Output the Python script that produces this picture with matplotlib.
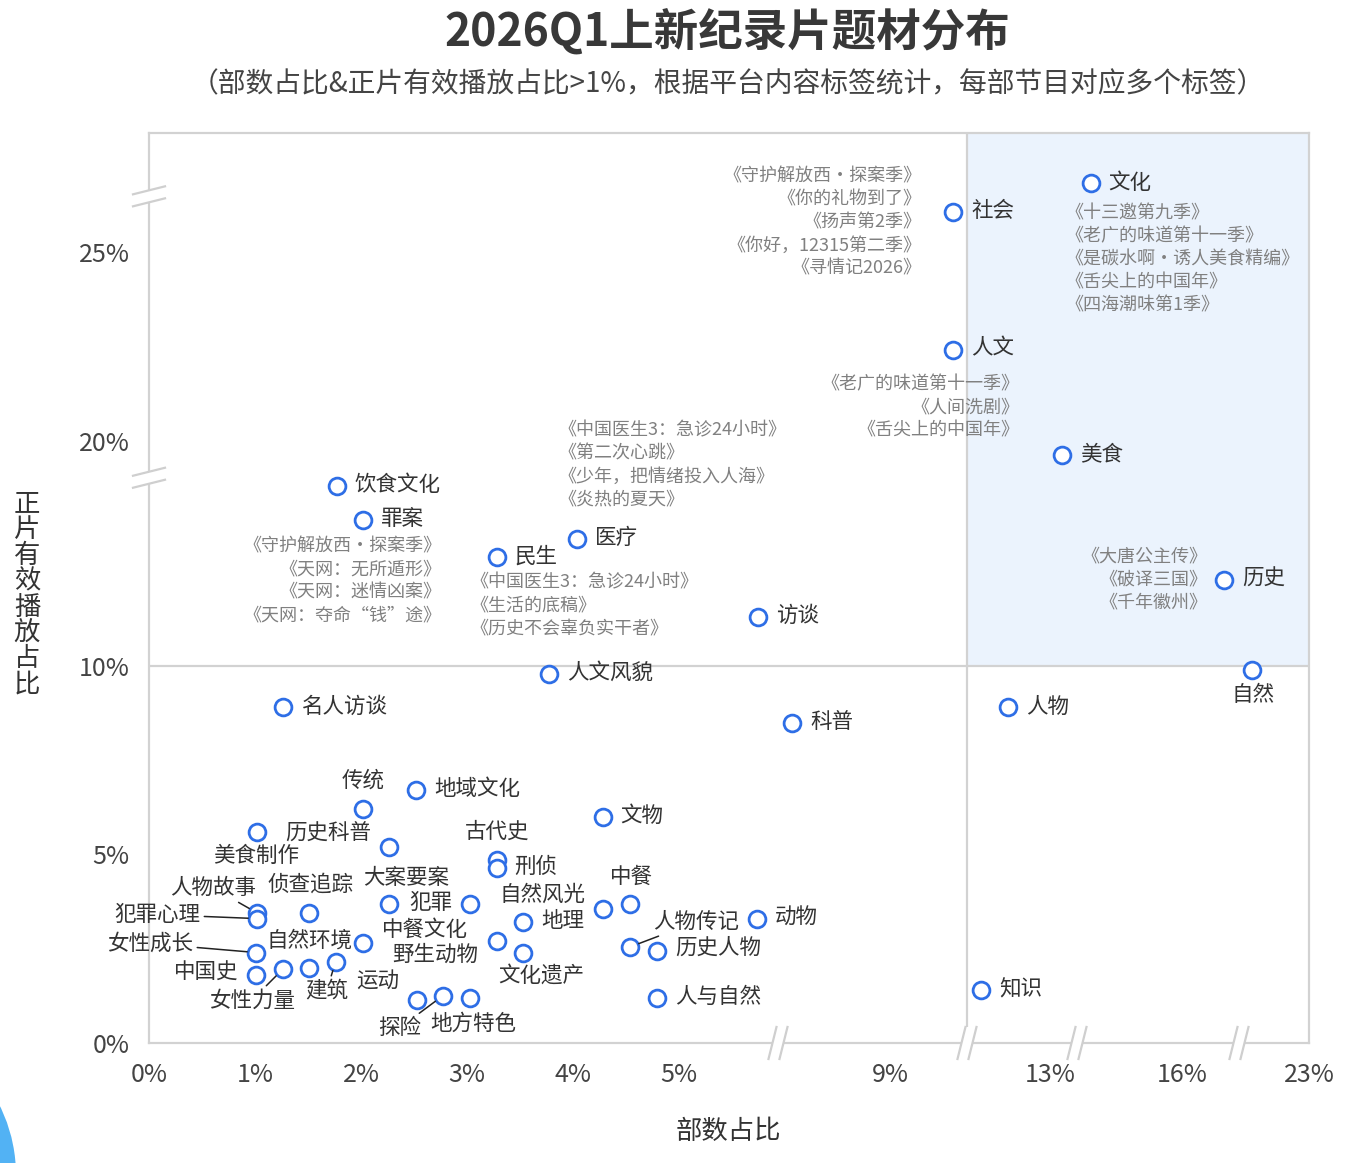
import numpy as np
import matplotlib.pyplot as plt
from matplotlib.patches import Ellipse, Polygon
from matplotlib.lines import Line2D

plt.rcParams['font.family'] = ['Noto Sans CJK SC', 'DejaVu Sans']

# --- data (部数占比 %, 正片有效播放占比 %) ---
names = ['文化', '社会', '人文', '美食', '历史', '自然', '人物', '知识',
         '饮食文化', '罪案', '民生', '医疗', '访谈', '人文风貌', '名人访谈', '科普',
         '传统', '地域文化', '文物', '美食制作', '历史科普', '古代史', '刑侦', '大案要案',
         '犯罪', '人物故事', '犯罪心理', '侦查追踪', '自然风光', '中餐', '地理', '中餐文化',
         '野生动物', '文化遗产', '人物传记', '历史人物', '人与自然', '动物', '女性成长', '中国史',
         '女性力量', '建筑', '自然环境', '探险', '地方特色', '运动']
x_share = [14.0, 10.64, 10.64, 13.31, 16.74, 18.1, 11.99, 11.34,
           1.77, 2.02, 3.28, 4.04, 5.80, 3.77, 1.26, 6.38,
           2.02, 2.52, 4.28, 1.02, 2.26, 3.28, 3.28, 2.26,
           3.03, 1.02, 1.02, 1.51, 4.28, 4.54, 3.53, 3.28,
           2.53, 3.53, 4.54, 4.79, 4.79, 5.79, 1.01, 1.01,
           1.26, 1.76, 2.02, 2.77, 3.03, 1.51]
y_play = [28.8, 26.1, 22.4, 19.6, 12.3, 9.9, 8.9, 1.4,
          14.8, 13.9, 12.9, 13.4, 11.3, 9.8, 8.9, 8.5,
          6.2, 6.7, 6.0, 5.6, 5.2, 4.85, 4.65, 3.7,
          3.7, 3.45, 3.3, 3.45, 3.55, 3.7, 3.2, 2.7,
          1.15, 2.4, 2.55, 2.45, 1.2, 3.3, 2.4, 1.8,
          1.95, 2.15, 2.65, 1.25, 1.2, 2.0]

works_shehui = ['《守护解放西·探案季》', '《你的礼物到了》', '《扬声第2季》', '《你好，12315第二季》', '《寻情记2026》']
works_wenhua = ['《十三邀第九季》', '《老广的味道第十一季》', '《是碳水啊·诱人美食精编》', '《舌尖上的中国年》', '《四海潮味第1季》']
works_renwen = ['《老广的味道第十一季》', '《人间洗剧》', '《舌尖上的中国年》']
works_yiliao = ['《中国医生3：急诊24小时》', '《第二次心跳》', '《少年，把情绪投入人海》', '《炎热的夏天》']
works_minsheng = ['《中国医生3：急诊24小时》', '《生活的底稿》', '《历史不会辜负实干者》']
works_zuian = ['《守护解放西·探案季》', '《天网：无所遁形》', '《天网：迷情凶案》', '《天网：夺命“钱”途》']
works_lishi = ['《大唐公主传》', '《破译三国》', '《千年徽州》']

x_ticks = [0, 1, 2, 3, 4, 5, 9, 13, 16, 23]
y_ticks = [0, 5, 10, 20, 25]

# --- broken axes as piecewise scales (value -> pixel) ---
x_vals = [0, 5, 6, 9, 11, 13, 13.7, 16, 17, 23]
x_pix = [149, 679, 778, 890, 967, 1050, 1077, 1182, 1239, 1309]
y_vals = [0, 10, 15, 19, 20, 25, 26.5, 28, 32]
y_pix = [0, 377, 564.5, 566, 602, 791, 846, 848, 910]

def fx(v):
    return np.interp(v, x_vals, x_pix)

def fx_inv(p):
    return np.interp(p, x_pix, x_vals)

def fy(v):
    return np.interp(v, y_vals, y_pix)

def fy_inv(p):
    return np.interp(p, y_pix, y_vals)

# label layout: (dx, dy) pixels from point (dy downwards), alignment
label_pos = {
    '文化': (18, 0, 'left'), '社会': (18, -1, 'left'), '人文': (18, -2, 'left'),
    '美食': (18, -1, 'left'), '历史': (18, -1, 'left'), '自然': (1, 25, 'center'),
    '传统': (0, -29, 'center'), '美食制作': (-1, 24, 'center'), '历史科普': (-17, -14, 'right'),
    '古代史': (0, -28, 'center'), '大案要案': (18, -26, 'center'), '犯罪': (-18, -1, 'right'),
    '人物故事': (-44, -25, 'center'), '犯罪心理': (-57, -4, 'right'), '侦查追踪': (1, -28, 'center'),
    '自然风光': (-60, -14, 'center'), '中餐': (1, -27, 'center'), '中餐文化': (-72, -11, 'center'),
    '野生动物': (18, -45, 'center'), '文化遗产': (18, 23, 'center'), '人物传记': (66, -25, 'center'),
    '历史人物': (18, -3, 'left'), '女性成长': (-63, -9, 'right'), '中国史': (-18, -2, 'right'),
    '女性力量': (-31, 31, 'center'), '建筑': (-9, 29, 'center'), '自然环境': (-54, -2, 'center'),
    '探险': (-43, 32, 'center'), '地方特色': (3, 26, 'center'), '运动': (69, 14, 'center'),
}
leaders = {'人物故事', '犯罪心理', '女性成长', '女性力量', '建筑', '探险', '人物传记'}

# program lists: owner, list, dx, dy(top), ha
work_boxes = [
    ('社会', works_shehui, -32, -44, 'right'),
    ('文化', works_wenhua, -25, 22, 'left'),
    ('人文', works_renwen, 66, 25, 'right'),
    ('医疗', works_yiliao, -19, -117, 'left'),
    ('民生', works_minsheng, -26, 16, 'left'),
    ('罪案', works_zuian, 78, 18, 'right'),
    ('历史', works_lishi, -17, -32, 'right'),
]

W, H = 1351, 1163
fig = plt.figure(figsize=(W / 100, H / 100), dpi=100)
ax = fig.add_axes([149 / W, 1 - 1043 / H, (1309 - 149) / W, (1043 - 133) / H])
ax.set_xscale('function', functions=(fx, fx_inv))
ax.set_yscale('function', functions=(fy, fy_inv))
ax.set_xlim(0, 23)
ax.set_ylim(0, 32)

# highlighted quadrant + dividers
ax.fill_between([11, 23], 10, 32, color='#ebf3fd', zorder=0, lw=0)
ax.axvline(11, color='#d2d2d2', lw=1.6, zorder=1)
ax.axhline(10, color='#d2d2d2', lw=1.6, zorder=1)

for s in ax.spines.values():
    s.set_color('#d2d2d2')
    s.set_linewidth(1.6)

ax.set_xticks(x_ticks)
ax.set_xticklabels([f'{t}%' for t in x_ticks])
ax.set_yticks(y_ticks)
ax.set_yticklabels([f'{t}%' for t in y_ticks])
ax.tick_params(length=0, labelsize=18, labelcolor='#444444')
ax.tick_params(axis='x', pad=14)
ax.tick_params(axis='y', pad=14)

ax.scatter(x_share, y_play, s=146, facecolor='white', edgecolor='#2e6ee6', linewidth=2.0, zorder=3)

idx = {n: i for i, n in enumerate(names)}
for i, n in enumerate(names):
    dx, dy, ha = label_pos.get(n, (18, -1, 'left'))
    kw = {}
    if n in leaders:
        kw['arrowprops'] = dict(arrowstyle='-', color='#222222', lw=1.1, shrinkA=1, shrinkB=6.5)
    ax.annotate(n, (x_share[i], y_play[i]), xytext=(dx, -dy), textcoords='offset pixels',
                ha=ha, va='center', fontsize=15.5, color='#333333', zorder=4, **kw)

for owner, works, dx, dy, ha in work_boxes:
    i = idx[owner]
    ax.annotate('\n'.join(works), (x_share[i], y_play[i]), xytext=(dx, -dy), textcoords='offset pixels',
                ha=ha, va='top', multialignment=ha, fontsize=13, color='#808080',
                linespacing=1.36, zorder=4)

# axis break marks
fig.canvas.draw()
def break_mark(px, py, horizontal_axis):
    if horizontal_axis:
        d, sep = np.array([4, 16]), np.array([5.5, 0])
    else:
        d, sep = np.array([16, 4]), np.array([0, 6])
    c = np.array([px, py])
    a1, b1 = c - sep - d, c - sep + d
    a2, b2 = c + sep - d, c + sep + d
    fig.patches.append(Polygon([a1, b1, b2, a2], closed=True, transform=None,
                               facecolor='white', edgecolor='none', zorder=5))
    for a, b in [(a1, b1), (a2, b2)]:
        fig.lines.append(Line2D([a[0], b[0]], [a[1], b[1]], transform=None,
                                color='#cfcfcf', lw=1.6, zorder=6))

x0d, y0d = ax.transAxes.transform((0, 0))
for v in [6, 11, 13.7, 17]:
    px = ax.transData.transform((v, 1))[0]
    break_mark(px, y0d, True)
for v in [17, 27]:
    py = ax.transData.transform((1, v))[1]
    break_mark(x0d, py, False)

# titles and axis labels
fig.text(727 / W, 1 - 33 / H, '2026Q1上新纪录片题材分布', ha='center', va='center',
         fontsize=32, fontweight='bold', color='#383838')
fig.text(728 / W, 1 - 84 / H, '（部数占比&正片有效播放占比>1%，根据平台内容标签统计，每部节目对应多个标签）',
         ha='center', va='center', fontsize=20, color='#444444')
fig.text(728 / W, 1 - 1131 / H, '部数占比', ha='center', va='center', fontsize=19, color='#333333')
fig.text(27 / W, 1 - 594 / H, '\n'.join('正片有效播放占比'), ha='center', va='center',
         fontsize=19, color='#333333', linespacing=0.95)

# decorative shape at bottom-left corner
fig.patches.append(Ellipse((-140 / W, (H - 1175) / H), 312 / W, 312 / H,
                           transform=fig.transFigure, facecolor='#52b2f4', edgecolor='none'))

fig.savefig('out.png', dpi=100)
